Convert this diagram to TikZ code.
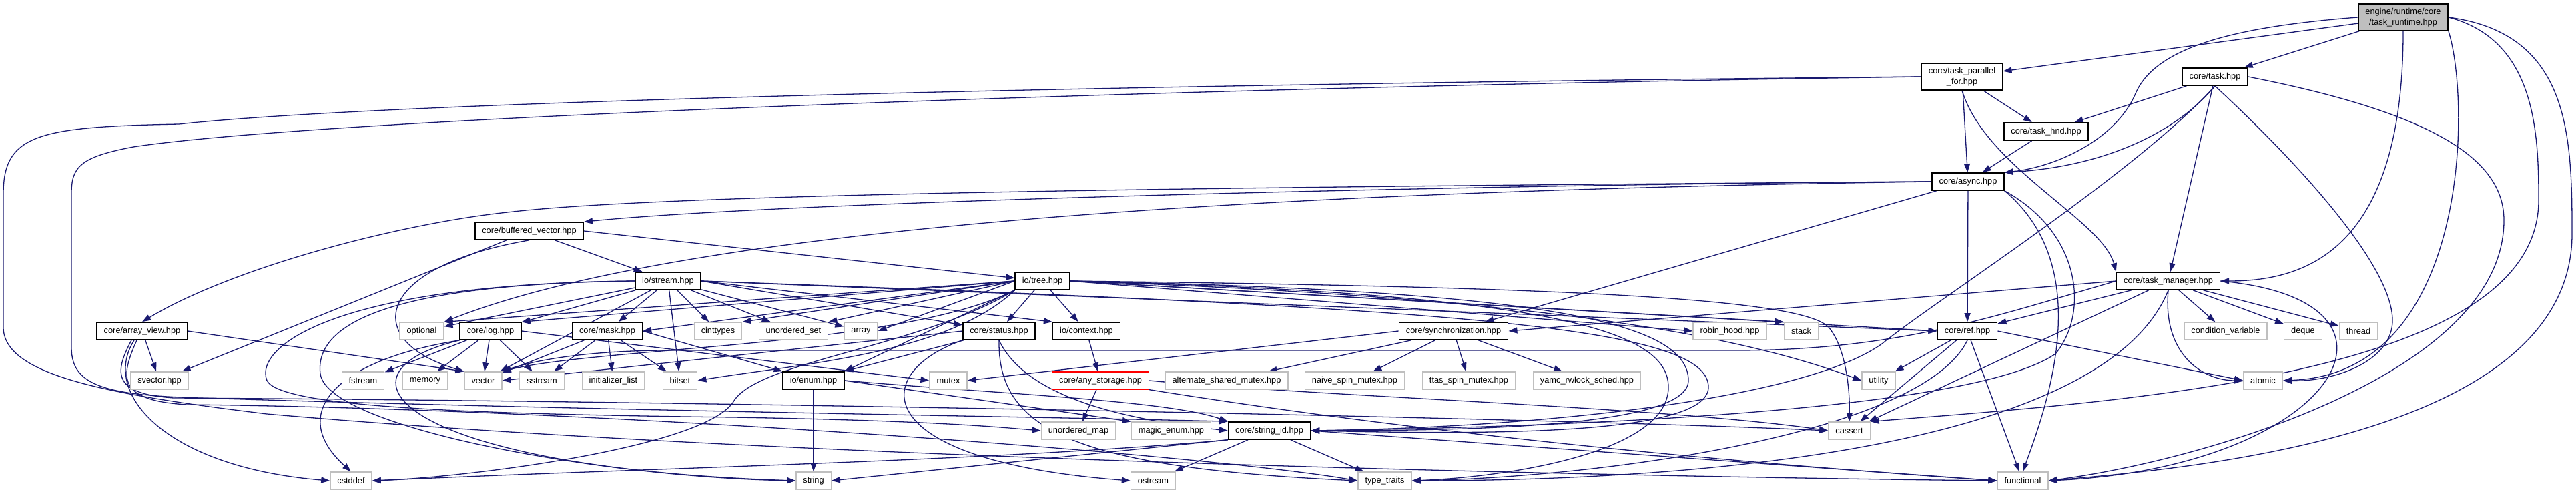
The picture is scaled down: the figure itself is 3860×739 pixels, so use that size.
\documentclass[tikz,border=0pt]{standalone}
\usepackage{fontspec}
\setmainfont{Liberation Sans}
\usepackage{xcolor}
\usetikzlibrary{arrows.meta, positioning, backgrounds}
\definecolor{edgeblue}{HTML}{191970}
\definecolor{extgray}{HTML}{BFBFBF}
\definecolor{rootfill}{HTML}{BFBFBF}
\definecolor{truncred}{HTML}{FF0000}

\begin{document}
\begin{tikzpicture}[x=1pt, y=-1pt,
    font=\fontsize{12.8}{15.5}\selectfont,
    box/.style={rectangle, fill=white, inner xsep=10.5pt, inner ysep=0pt, minimum height=26pt},
    docbox/.style={box, draw=black, line width=1.6pt},
    extbox/.style={box, draw=extgray, line width=1.3pt},
    truncbox/.style={box, draw=truncred, line width=1.3pt},
    rootbox/.style={box, draw=black, fill=rootfill, line width=1.6pt, align=center, minimum height=40pt},
    dep/.style={draw=edgeblue, line width=1.3pt, -{Triangle[length=13pt, width=9pt]}}]
    \useasboundingbox (0,0) rectangle (3860,739);
    % Root and task headers
    \node[rootbox] (runtime) at (3601,26) {engine/runtime/core\\/task\_runtime.hpp};
    \node[docbox, align=center, minimum height=40pt] (tpf) at (2940,115) {core/task\_parallel\\\_for.hpp};
    \node[docbox] (task) at (3319,115) {core/task.hpp};
    \node[docbox] (hnd) at (3066,197) {core/task\_hnd.hpp};
    \node[docbox] (async) at (2949,272) {core/async.hpp};
    \node[docbox] (bufvec) at (793,346) {core/buffered\_vector.hpp};
    \node[docbox] (stream) at (1001,421) {io/stream.hpp};
    \node[docbox] (tree) at (1562,421) {io/tree.hpp};
    \node[docbox] (taskmgr) at (3249,421) {core/task\_manager.hpp};
    % Row of headers
    \node[docbox] (arrview) at (213,496) {core/array\_view.hpp};
    \node[extbox] (optional) at (632,496) {optional};
    \node[docbox] (log) at (735,496) {core/log.hpp};
    \node[docbox] (mask) at (910,496) {core/mask.hpp};
    \node[extbox] (cinttypes) at (1076,496) {cinttypes};
    \node[extbox] (uset) at (1189,496) {unordered\_set};
    \node[extbox] (array) at (1290,496) {array};
    \node[docbox] (status) at (1497,496) {core/status.hpp};
    \node[docbox] (context) at (1628,496) {io/context.hpp};
    \node[docbox] (sync) at (2178,496) {core/synchronization.hpp};
    \node[extbox] (robin) at (2592,496) {robin\_hood.hpp};
    \node[extbox] (stack) at (2699,496) {stack};
    \node[docbox] (ref) at (2948,496) {core/ref.hpp};
    \node[extbox] (condvar) at (3335,496) {condition\_variable};
    \node[extbox] (deque) at (3451,496) {deque};
    \node[extbox] (thread) at (3534,496) {thread};
    % Next row
    \node[extbox] (svector) at (239,570) {svector.hpp};
    \node[extbox] (fstream) at (544,570) {fstream};
    \node[extbox] (memory) at (637,570) {memory};
    \node[extbox] (vector) at (724,570) {vector};
    \node[extbox] (sstream) at (812,570) {sstream};
    \node[extbox] (initlist) at (919,570) {initializer\_list};
    \node[extbox] (bitset) at (1019,570) {bitset};
    \node[docbox] (enum) at (1219,570) {io/enum.hpp};
    \node[extbox] (mutex) at (1421,570) {mutex};
    \node[truncbox] (anystor) at (1649,570) {core/any\_storage.hpp};
    \node[extbox] (altmutex) at (1838,570) {alternate\_shared\_mutex.hpp};
    \node[extbox] (naive) at (2030,570) {naive\_spin\_mutex.hpp};
    \node[extbox] (ttas) at (2201,570) {ttas\_spin\_mutex.hpp};
    \node[extbox] (yamc) at (2378,570) {yamc\_rwlock\_sched.hpp};
    \node[extbox] (utility) at (2815,570) {utility};
    \node[extbox] (atomic) at (3391,570) {atomic};
    % Bottom rows
    \node[extbox] (umap) at (1616,645) {unordered\_map};
    \node[extbox] (magic) at (1755,645) {magic\_enum.hpp};
    \node[docbox] (strid) at (1902,645) {core/string\_id.hpp};
    \node[extbox] (cassert) at (2771,645) {cassert};
    \node[extbox] (cstddef) at (526,720) {cstddef};
    \node[extbox] (string) at (1219,720) {string};
    \node[extbox] (ostream) at (1728,720) {ostream};
    \node[extbox] (ttraits) at (2075,720) {type\_traits};
    \node[extbox] (functional) at (3031,720) {functional};

    \begin{scope}[on background layer]
    \fill[white] (0,0) rectangle (3860,739);
    % Straight includes
    \foreach \src/\dst in {runtime/tpf, runtime/task, tpf/hnd, task/hnd, tpf/async, hnd/async,
        task/taskmgr, async/sync, async/ref,
        bufvec/stream, bufvec.east/tree, bufvec/svector,
        arrview/svector, arrview.east/vector.north west,
        stream/optional, stream/log, stream/mask, stream/cinttypes, stream/uset, stream/array,
        stream/vector, stream/bitset, stream.east/status, stream.east/context.north west, stream.east/ref.west,
        log/fstream, log/memory, log/vector, log/sstream, log.east/mutex.west,
        mask/vector, mask/sstream, mask/initlist, mask/bitset, mask.east/enum.north west,
        tree.west/optional.north east, tree.west/log.north east, tree.west/mask.east,
        tree.west/cinttypes.north east, tree.west/uset.north east, tree.west/array.east,
        tree/status, tree/context, tree.south west/enum.north east,
        tree.east/robin.west, tree.east/stack.north west, tree.east/ref.west,
        status.west/vector.east, status/enum.north east,
        enum/string, enum.east/magic.north west, context/anystor, anystor/umap,
        sync.west/mutex.east, sync/altmutex, sync/naive, sync/ttas, sync/yamc,
        taskmgr.west/sync.east, taskmgr/ref, taskmgr/condvar, taskmgr/deque, taskmgr/thread, taskmgr/cassert,
        ref/utility, ref/cassert, ref/functional, ref.east/atomic.west,
        strid.south west/string.east, strid/ostream, strid/ttraits, strid.east/functional.west}
        \draw[dep] (\src) -- (\dst);
    \draw[dep] (tpf.south) .. controls (2975,250) and (3150,330) .. (taskmgr.north west);
    % Root curves
    \draw[dep] (runtime.west) .. controls (3350,40) and (3230,70) .. (3200,140)
        .. controls (3170,210) and (3080,250) .. (async.north east);
    \draw[dep] (runtime.south) .. controls (3601,380) and (3450,421) .. (taskmgr.east);
    \draw[dep] (runtime.south east) .. controls (3702,150) and (3702,560) .. (atomic.east);
    \draw[dep] (runtime.east) .. controls (3800,60) and (3804,200) .. (3804,300)
        .. controls (3804,560) and (3200,600) .. (cassert.north east);
    \draw[dep] (runtime.east) .. controls (3850,50) and (3854,200) .. (3854,350)
        .. controls (3854,650) and (3300,700) .. (functional.east);
    % Task curves
    \draw[dep] (task.south) .. controls (3260,200) and (3150,250) .. (async.north east);
    \draw[dep] (task.east) .. controls (3650,170) and (3752,240) .. (3752,330)
        .. controls (3752,560) and (3300,690) .. (functional.east);
    \draw[dep] (task.south) .. controls (3450,250) and (3585,400) .. (3585,480)
        .. controls (3585,540) and (3500,572) .. (atomic.east);
    \draw[dep] (task.south) .. controls (3200,260) and (2900,450) .. (2820,515)
        .. controls (2700,600) and (2300,640) .. (strid.east);
    \draw[dep] (tpf.west) .. controls (1800,125) and (600,150) .. (268,186)
        .. controls (60,190) and (5,200) .. (5,290) -- (5,490)
        .. controls (5,560) and (150,590) .. (400,620)
        .. controls (1200,690) and (2500,715) .. (functional.west);
    \draw[dep] (tpf.west) .. controls (1800,130) and (500,175) .. (200,220)
        .. controls (120,235) and (107,250) .. (107,290) -- (107,520)
        .. controls (107,575) and (150,592) .. (300,596)
        .. controls (900,615) and (1600,625) .. (strid.north west);
    % Async curves
    \draw[dep] (async.west) .. controls (2300,275) and (1200,300) .. (bufvec.north east);
    \draw[dep] (async.west) .. controls (1800,280) and (1000,290) .. (760,318)
        .. controls (600,335) and (350,400) .. (arrview.north);
    \draw[dep] (async.west) .. controls (2000,285) and (1050,330) .. (optional.north east);
    \draw[dep] (async.south east) .. controls (3120,350) and (3130,470) .. (3080,530)
        .. controls (2950,620) and (2300,640) .. (strid.east);
    \draw[dep] (async.south east) .. controls (3140,400) and (3070,600) .. (functional.north);
    % Left side curves
    \draw[dep] (bufvec.south) .. controls (560,400) and (540,510) .. (vector.north west);
    \draw[dep] ([xshift=-12pt]arrview.south) .. controls (150,590) and (250,700) .. (cstddef.west);
    \draw[dep] ([xshift=-16pt]arrview.south) .. controls (170,560) and (170,590) .. (260,596)
        .. controls (1000,600) and (2300,625) .. (cassert.west);
    \draw[dep] ([xshift=-8pt]arrview.south) .. controls (180,565) and (175,600) .. (280,606)
        .. controls (900,612) and (1800,680) .. (ttraits.west);
    \draw[dep] (stream.west) .. controls (600,425) and (470,480) .. (480,560)
        .. controls (490,640) and (900,715) .. (string.west);
    \draw[dep] (stream.west) .. controls (500,425) and (380,520) .. (400,570)
        .. controls (420,610) and (700,620) .. (1100,625)
        .. controls (1400,630) and (1500,640) .. (umap.west);
    \draw[dep] (log.south west) .. controls (500,540) and (430,620) .. (cstddef.north);
    \draw[dep] (log.south west) .. controls (480,560) and (600,700) .. (string.west);
    % Tree curves
    \draw[dep] (tree.south west) .. controls (1350,520) and (900,520) .. (vector.north east);
    \draw[dep] (tree.south west) .. controls (1420,530) and (1200,545) .. (bitset.east);
    \draw[dep] (tree.south west) .. controls (1380,520) and (1140,540) .. (1100,600)
        .. controls (1060,670) and (700,715) .. (cstddef.east);
    \draw[dep] (tree.east) .. controls (2300,445) and (2600,500) .. (utility.west);
    \draw[dep] (tree.east) .. controls (2400,430) and (2700,450) .. (2740,490)
        .. controls (2765,520) and (2772,580) .. (cassert.north);
    \draw[dep] (tree.east) .. controls (2300,435) and (2530,480) .. (2530,570)
        .. controls (2530,640) and (2200,645) .. (strid.east);
    \draw[dep] (tree.east) .. controls (2350,440) and (2500,500) .. (2500,580)
        .. controls (2500,680) and (2250,715) .. (ttraits.east);
    \draw[dep] (stream.east) .. controls (2200,462) and (2560,490) .. (2560,580)
        .. controls (2560,655) and (2200,650) .. (strid.east);
    % Status, enum, storage
    \draw[dep] (status.south west) .. controls (1300,560) and (1300,690) .. (ostream.west);
    \draw[dep] (status.south) .. controls (1495,640) and (1600,700) .. (ttraits.west);
    \draw[dep] (status.south) .. controls (1540,600) and (1700,630) .. (strid.west);
    \draw[dep] (enum.east) .. controls (1500,590) and (1750,600) .. (strid.north west);
    \draw[dep] (anystor.east) .. controls (2000,595) and (2500,610) .. (cassert.west);
    \draw[dep] (anystor.south east) .. controls (2200,660) and (2700,700) .. (functional.west);
    \draw[dep] (strid.south west) .. controls (1500,690) and (1000,700) .. (cstddef.east);
    % Manager and ref curves
    \draw[dep] (taskmgr.west) .. controls (3000,470) and (2850,525) .. (2600,525) -- (1000,525)
        .. controls (880,525) and (800,540) .. (vector.north east);
    \draw[dep] (taskmgr.south) .. controls (3240,530) and (3300,570) .. (atomic.west);
    \draw[dep] (taskmgr.east) .. controls (3650,450) and (3500,700) .. (functional.east);
    \draw[dep] (taskmgr.south) .. controls (3150,680) and (2500,720) .. (ttraits.east);
    \draw[dep] (ref.south) .. controls (2880,650) and (2400,715) .. (ttraits.east);
    \end{scope}
\end{tikzpicture}
\end{document}
